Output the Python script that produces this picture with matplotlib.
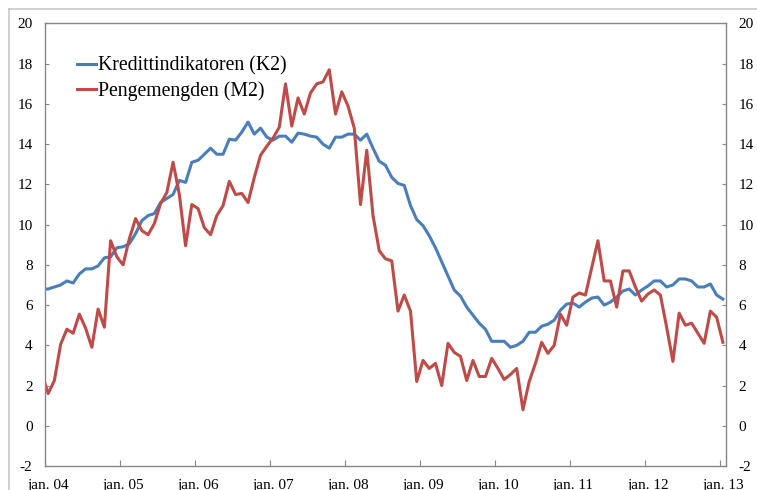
import matplotlib
matplotlib.use("Agg")
import matplotlib.pyplot as plt
from matplotlib.lines import Line2D

# månedlige observasjoner, des. 03 - jan. 13 (12-månedersvekst, prosent)
k2 = [6.8, 6.8, 6.9, 7.0, 7.2, 7.1, 7.55, 7.8, 7.8, 7.95, 8.35, 8.4, 8.85,
      8.9, 9.05, 9.55, 10.2, 10.45, 10.55, 11.1, 11.3, 11.5, 12.2, 12.1, 13.1,
      13.2, 13.5, 13.8, 13.5, 13.5, 14.25, 14.2, 14.6, 15.1, 14.5, 14.8, 14.35,
      14.2, 14.4, 14.4, 14.1, 14.55, 14.5, 14.4, 14.35, 14.0, 13.8, 14.35, 14.35,
      14.5, 14.5, 14.2, 14.5, 13.8, 13.15, 12.95, 12.35, 12.05, 11.95, 10.95, 10.25,
      9.95, 9.45, 8.85, 8.15, 7.45, 6.75, 6.45, 5.9, 5.5, 5.1, 4.8, 4.2,
      4.2, 4.2, 3.9, 4.0, 4.2, 4.65, 4.65, 4.95, 5.05, 5.25, 5.75, 6.05,
      6.1, 5.9, 6.15, 6.35, 6.4, 6.0, 6.15, 6.4, 6.7, 6.8, 6.5, 6.75,
      6.95, 7.2, 7.2, 6.9, 7.0, 7.3, 7.3, 7.2, 6.9, 6.9, 7.05, 6.5, 6.3]
m2 = [2.6, 1.6, 2.25, 4.05, 4.8, 4.6, 5.55, 4.85, 3.9, 5.8, 4.9, 9.2, 8.4,
      8.0, 9.3, 10.3, 9.7, 9.5, 10.05, 11.05, 11.6, 13.1, 11.5, 8.95, 11.0,
      10.8, 9.85, 9.5, 10.45, 10.95, 12.15, 11.5, 11.55, 11.1, 12.35, 13.45, 13.9,
      14.3, 14.85, 17.0, 14.9, 16.3, 15.5, 16.55, 17.0, 17.1, 17.7, 15.5, 16.6,
      15.9, 14.8, 11.0, 13.7, 10.45, 8.7, 8.3, 8.2, 5.7, 6.5, 5.7, 2.2,
      3.25, 2.85, 3.1, 2.0, 4.1, 3.65, 3.45, 2.25, 3.25, 2.45, 2.45, 3.35,
      2.85, 2.3, 2.55, 2.85, 0.8, 2.2, 3.1, 4.15, 3.6, 4.0, 5.55, 5.0,
      6.4, 6.6, 6.5, 7.85, 9.2, 7.2, 7.2, 5.9, 7.7, 7.7, 6.9, 6.2,
      6.55, 6.75, 6.5, 4.9, 3.2, 5.6, 5.0, 5.1, 4.6, 4.1, 5.7, 5.4, 4.15]
year_labels = ['jan. 04', 'jan. 05', 'jan. 06', 'jan. 07', 'jan. 08',
               'jan. 09', 'jan. 10', 'jan. 11', 'jan. 12', 'jan. 13']
series_names = ['Kredittindikatoren (K2)', 'Pengemengden (M2)']

plt.rcParams['font.family'] = ['Liberation Serif', 'DejaVu Serif']
plt.rcParams['axes.unicode_minus'] = False

W, H = 757, 490
fig = plt.figure(figsize=(W / 100, H / 100), dpi=100)
ax = fig.add_axes([45 / W, 24 / H, 681 / W, 442.5 / H])

# hvert punkt midt i sin måned (første punkt = des. 03)
x = [i - 0.5 for i in range(len(k2))]
ax.plot(x, k2, color='#4a7ebb', lw=2.2, label=series_names[0], solid_joinstyle='round')
ax.plot(x, m2, color='#be4b48', lw=2.2, label=series_names[1], solid_joinstyle='round')

ax.set_xlim(0, 109)
ax.set_ylim(-2, 20)
ax.set_yticks(range(-2, 21, 2))

ax.set_xticks(range(0, 109, 12))
ax.set_xticklabels([])
ax.set_xticks([12 * k + 0.5 for k in range(len(year_labels))], minor=True)
ax.set_xticklabels(year_labels, minor=True)

gray = '#868686'
for s in ax.spines.values():
    s.set_color(gray)
    s.set_linewidth(1.0)
ax.tick_params(axis='x', which='major', direction='in', length=4, color=gray)
ax.tick_params(axis='x', which='minor', length=0, pad=9, labelsize=11)
ax.tick_params(axis='y', direction='in', length=3, color=gray, left=True,
               right=True, labelleft=True, labelright=True, pad=9, labelsize=11)

ax.legend(loc='upper left', bbox_to_anchor=(0.035, 0.944), frameon=False,
          fontsize=14.2, handlelength=1.0, handletextpad=0.1, labelspacing=0.28,
          borderaxespad=0)

# grå ramme rundt figuren
fig.add_artist(Line2D([9 / W, 9 / W], [0, 1 - 9.5 / H], color='#c8c8c8', lw=1.2))
fig.add_artist(Line2D([9 / W, 1], [1 - 9.5 / H, 1 - 9.5 / H], color='#c8c8c8', lw=1.2))

fig.savefig('out.png', dpi=100)
